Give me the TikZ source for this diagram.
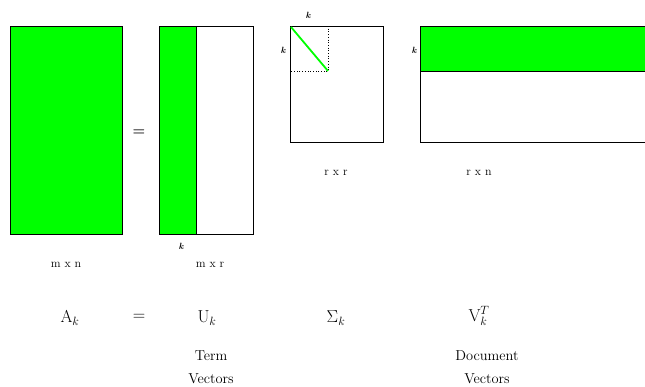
\documentclass[tikz,border=0pt]{standalone}
\begin{document}
\begin{tikzpicture}[x=1pt,y=-1pt,
  mat/.style={draw=black,line width=1.4pt,inner sep=0pt,anchor=north west},
  dim/.style={font=\large,inner sep=1pt},
  kl/.style={font=\small\itshape\bfseries,inner sep=1pt},
  eqn/.style={font=\LARGE,inner sep=1pt},
  captext/.style={font=\Large,inner sep=1pt,align=center}]
\definecolor{lsagreen}{RGB}{0,255,0}
\useasboundingbox (0,0) rectangle (645,386);
\clip (0,0) rectangle (645,386);
% A
\node[mat,fill=lsagreen,minimum width=112pt,minimum height=208pt] (A) at (10,26) {};
\node[font=\Large\bfseries] (eq1) at (139,133) {=};
% U
\node[mat,minimum width=94pt,minimum height=208pt] (U) at (159,26) {};
\node[mat,fill=lsagreen,minimum width=37pt,minimum height=208pt] (Uk) at (159,26) {};
\node[kl] (ku) at (181,246) {k};
% Sigma
\node[mat,minimum width=93pt,minimum height=116pt] (S) at (290,26) {};
\coordinate (d0) at (291,27);
\coordinate (d1) at (328,71);
\coordinate (dt) at (328,26);
\coordinate (dl) at (291,71);
\draw[dotted,line width=0.7pt] (dt) -- (d1) -- (dl);
\draw[lsagreen,line width=1.8pt] (d0) -- (d1);
\node[kl] (ks1) at (308,15) {k};
\node[kl] (ks2) at (283,50) {k};
% V
\node[mat,minimum width=240pt,minimum height=116pt] (V) at (420,26) {};
\node[mat,fill=lsagreen,minimum width=240pt,minimum height=45pt] (Vk) at (420,26) {};
\node[kl] (kv) at (414,50) {k};
% dimensions
\node[dim] (dA) at (66,265) {m x n};
\node[dim] (dU) at (210,265) {m x r};
\node[dim] (dS) at (336,173) {r x r};
\node[dim] (dV) at (479,173) {r x n};
% equation
\node[eqn] (Ak) at (70,318) {A$_k$};
\node[eqn] (eq2) at (139,317) {=};
\node[eqn] (Uke) at (207,318) {U$_k$};
\node[eqn] (Sk) at (336,318) {$\Sigma_k$};
\node[eqn] (Vke) at (479,316) {V$_k^T$};
% captions
\node[captext] (term) at (211,367) {Term\\[5pt]Vectors};
\node[captext] (doc) at (487,367) {Document\\[5pt]Vectors};
\end{tikzpicture}
\end{document}
